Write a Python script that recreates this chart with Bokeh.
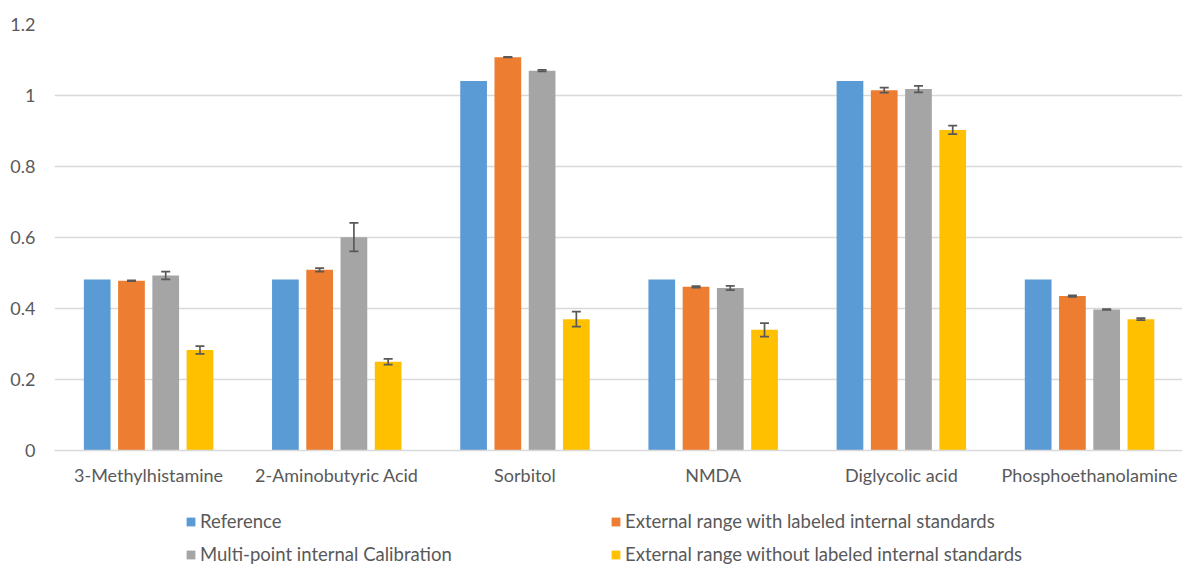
import numpy as np
from bokeh.plotting import figure
from bokeh.layouts import column
from bokeh.models import (ColumnDataSource, Range1d, FixedTicker, NumeralTickFormatter,
                          Whisker, TeeHead, Legend, LegendItem)
from bokeh.embed import file_html
from bokeh.resources import INLINE

categories = ["3-Methylhistamine", "2-Aminobutyric Acid", "Sorbitol", "NMDA",
              "Diglycolic acid", "Phosphoethanolamine"]
series_names = ["Reference", "External range with labeled internal standards",
                "Multi-point internal Calibration", "External range without labeled internal standards"]
reference = [0.482, 0.482, 1.041, 0.482, 1.041, 0.482]
ext_with = [0.478, 0.509, 1.108, 0.461, 1.015, 0.435]
ext_with_err = [0.001, 0.005, 0.001, 0.002, 0.007, 0.002]
multi_point = [0.493, 0.601, 1.070, 0.458, 1.018, 0.397]
multi_point_err = [0.011, 0.040, 0.002, 0.006, 0.009, 0.001]
ext_without = [0.283, 0.250, 0.370, 0.340, 0.903, 0.370]
ext_without_err = [0.011, 0.008, 0.021, 0.019, 0.012, 0.003]
y_ticks = [0, 0.2, 0.4, 0.6, 0.8, 1.0, 1.2]

colors = ["#5B9BD5", "#ED7D31", "#A5A5A5", "#FFC000"]
FONT = "Lato"
TXT = "#595959"

W = 1182
H1, H2 = 495, 70
LEFT = 54
p = figure(width=W, height=H1, output_backend="svg", toolbar_location=None,
           x_range=Range1d(-0.5, 5.494), y_range=Range1d(0, 1.2),
           min_border_left=LEFT, min_border_right=0, min_border_top=24, min_border_bottom=45)
p.outline_line_color = None

idx = np.arange(len(categories))
offsets = [-0.273, -0.091, 0.091, 0.273]
bar_w = 0.142
vals = [reference, ext_with, multi_point, ext_without]
errs = [None, ext_with_err, multi_point_err, ext_without_err]

renderers = []
for k in range(4):
    v = np.array(vals[k])
    data = dict(x=idx + offsets[k], top=v)
    if errs[k] is not None:
        e = np.array(errs[k])
        data["upper"] = v + e
        data["lower"] = v - e
    src = ColumnDataSource(data)
    r = p.vbar(x="x", top="top", width=bar_w, bottom=0, source=src,
               fill_color=colors[k], line_color=None)
    renderers.append(r)
    if errs[k] is not None:
        wk = Whisker(base="x", upper="upper", lower="lower", source=src, level="overlay",
                     line_color="#595959", line_width=1.7,
                     upper_head=TeeHead(size=9, line_color="#595959", line_width=1.7),
                     lower_head=TeeHead(size=9, line_color="#595959", line_width=1.7))
        p.add_layout(wk)

# axes
p.yaxis.ticker = FixedTicker(ticks=y_ticks)
p.yaxis.formatter = NumeralTickFormatter(format="0.[0]")
p.yaxis.axis_line_color = None
p.yaxis.major_tick_line_color = None
p.yaxis.minor_tick_line_color = None
p.yaxis.major_label_standoff = 13
p.yaxis.major_label_text_font = FONT
p.yaxis.major_label_text_font_size = "18px"
p.yaxis.major_label_text_color = TXT

p.xaxis.ticker = FixedTicker(ticks=list(idx))
p.xaxis.major_label_overrides = {int(i): c for i, c in zip(idx, categories)}
p.xaxis.axis_line_color = "#D9D9D9"
p.xaxis.axis_line_width = 1.5
p.xaxis.major_tick_line_color = None
p.xaxis.minor_tick_line_color = None
p.xaxis.major_label_standoff = 7
p.xaxis.major_label_text_font = FONT
p.xaxis.major_label_text_font_size = "18px"
p.xaxis.major_label_text_color = TXT

p.xgrid.grid_line_color = None
p.ygrid.grid_line_color = "#D9D9D9"
p.ygrid.grid_line_width = 1.5

# legend strip below the chart (its frame is aligned with the chart frame)
q = figure(width=W, height=H2, output_backend="svg", toolbar_location=None,
           x_range=Range1d(0, 1), y_range=Range1d(0, 1),
           min_border=0, min_border_left=LEFT, x_axis_type=None, y_axis_type=None)
q.outline_line_color = None
q.xgrid.grid_line_color = None
q.ygrid.grid_line_color = None
# legend swatches: same bar glyph style, kept off-screen so only the legend shows them
swatch_src = ColumnDataSource(dict(x=[-5.0], top=[0.0]))
swatches = [q.vbar(x="x", top="top", width=0.1, source=swatch_src,
                   fill_color=c, line_color=None) for c in colors]

item_h = 22
positions = [(185, 26), (610, 26), (185, 59), (610, 59)]  # square left x (page px), row centre y (strip px)
for k in range(4):
    sx, cy = positions[k]
    lg = Legend(items=[LegendItem(label=series_names[k], renderers=[swatches[k]])],
                location=(sx - LEFT, H2 - cy - item_h / 2),
                padding=0, margin=0, border_line_color=None, background_fill_alpha=0,
                glyph_width=11, glyph_height=11, label_standoff=4,
                label_text_font=FONT, label_text_font_size="18.5px",
                label_text_color=TXT, label_height=item_h)
    q.add_layout(lg, "center")

open("out.html", "w").write(file_html(column(p, q, spacing=0), INLINE))
